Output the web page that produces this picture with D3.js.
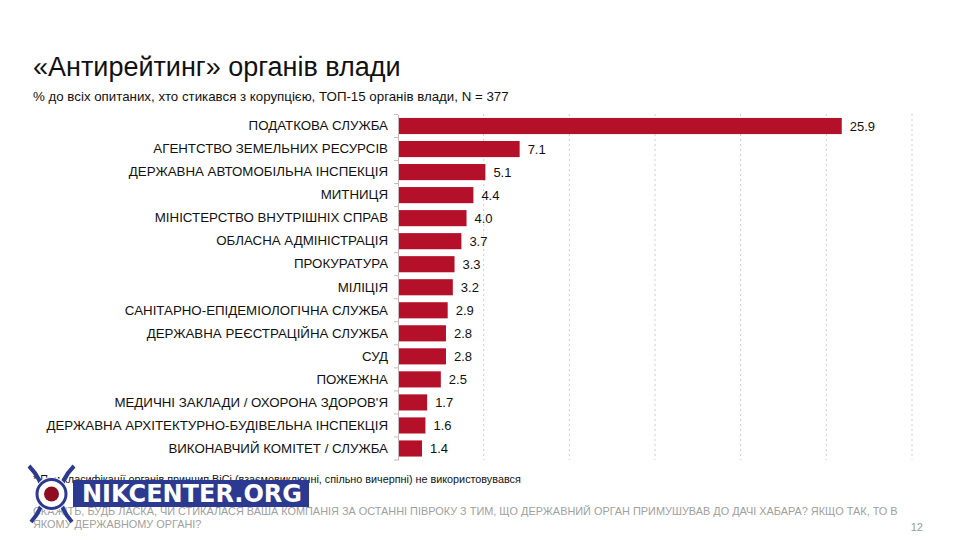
<!DOCTYPE html>
<html>
<head>
<meta charset="utf-8">
<script src="https://cdn.jsdelivr.net/npm/d3@7"></script>
<style>
  body { margin: 0; background: #fff; }
  text { font-family: "Liberation Sans", Arial, sans-serif; }
</style>
</head>
<body>
<div id="chart"></div>
<script>
var width = 960;
var height = 540;

var categories = [
  "ПОДАТКОВА СЛУЖБА",
  "АГЕНТСТВО ЗЕМЕЛЬНИХ РЕСУРСІВ",
  "ДЕРЖАВНА АВТОМОБІЛЬНА ІНСПЕКЦІЯ",
  "МИТНИЦЯ",
  "МІНІСТЕРСТВО ВНУТРІШНІХ СПРАВ",
  "ОБЛАСНА АДМІНІСТРАЦІЯ",
  "ПРОКУРАТУРА",
  "МІЛІЦІЯ",
  "САНІТАРНО-ЕПІДЕМІОЛОГІЧНА СЛУЖБА",
  "ДЕРЖАВНА РЕЄСТРАЦІЙНА СЛУЖБА",
  "СУД",
  "ПОЖЕЖНА",
  "МЕДИЧНІ ЗАКЛАДИ / ОХОРОНА ЗДОРОВ'Я",
  "ДЕРЖАВНА АРХІТЕКТУРНО-БУДІВЕЛЬНА ІНСПЕКЦІЯ",
  "ВИКОНАВЧИЙ КОМІТЕТ / СЛУЖБА"
];
var values = [25.9, 7.1, 5.1, 4.4, 4.0, 3.7, 3.3, 3.2, 2.9, 2.8, 2.8, 2.5, 1.7, 1.6, 1.4];
var gridTicks = [5, 10, 15, 20, 25, 30];

var titleText = "«Антирейтинг» органів влади";
var subtitleText = "% до всіх опитаних, хто стикався з корупцією, ТОП-15 органів влади, N = 377";
var footnoteText = "* При класифікації органів принцип ВіСі (взаємовиключні, спільно вичерпні) не використовувався";
var questionLines = [
  "СКАЖІТЬ, БУДЬ ЛАСКА, ЧИ СТИКАЛАСЯ ВАША КОМПАНІЯ ЗА ОСТАННІ ПІВРОКУ З ТИМ, ЩО ДЕРЖАВНИЙ ОРГАН ПРИМУШУВАВ ДО ДАЧІ ХАБАРА? ЯКЩО ТАК, ТО В",
  "ЯКОМУ ДЕРЖАВНОМУ ОРГАНІ?"
];
var pageNumber = "12";

var svg = d3.select("#chart").append("svg")
  .attr("width", width)
  .attr("height", height);

var x = d3.scaleLinear().domain([0, 30]).range([398, 912]);
var y = d3.scaleBand().domain(categories).range([114.5, 460]).paddingInner(0.3).paddingOuter(0.15);

// title block
svg.append("text")
  .attr("x", 33).attr("y", 76)
  .style("font-size", "27px")
  .style("fill", "#111")
  .text(titleText);

svg.append("text")
  .attr("x", 33).attr("y", 101)
  .style("font-size", "13.3px")
  .style("fill", "#111")
  .text(subtitleText);

// dashed grid lines
svg.append("g").selectAll("line")
  .data(gridTicks)
  .enter().append("line")
  .attr("x1", function(d) { return x(d); })
  .attr("x2", function(d) { return x(d); })
  .attr("y1", 114).attr("y2", 460)
  .style("stroke", "#cfcfcf")
  .style("stroke-width", 1)
  .style("stroke-dasharray", "2,3");

// bars
svg.append("g").selectAll("rect")
  .data(values)
  .enter().append("rect")
  .attr("x", x(0) + 1)
  .attr("y", function(d, i) { return y(categories[i]); })
  .attr("width", function(d) { return x(d) - x(0) - 1; })
  .attr("height", y.bandwidth())
  .style("fill", "#b5102a");

// value labels
svg.append("g").selectAll("text")
  .data(values)
  .enter().append("text")
  .attr("x", function(d) { return x(d) + 8; })
  .attr("y", function(d, i) { return y(categories[i]) + y.bandwidth() / 2; })
  .attr("dy", "0.36em")
  .style("font-size", "13px")
  .style("fill", "#111")
  .text(function(d) { return d.toFixed(1); });

// category axis
var yAxis = d3.axisLeft(y).tickSize(0).tickPadding(10);
var axisG = svg.append("g")
  .attr("transform", "translate(" + x(0) + ",0)")
  .call(yAxis);
axisG.select(".domain").style("stroke", "#c9b8bb");
axisG.selectAll(".tick text")
  .style("font-size", "13.3px")
  .style("fill", "#111")
  .style("font-family", "'Liberation Sans', Arial, sans-serif");

// small separators between categories
var step = y.step();
var bounds = d3.range(categories.length + 1).map(function(i) { return y.range()[0] + i * step; });
axisG.selectAll(".sep")
  .data(bounds)
  .enter().append("line")
  .attr("class", "sep")
  .attr("x1", -4).attr("x2", 0)
  .attr("y1", function(d) { return d; })
  .attr("y2", function(d) { return d; })
  .style("stroke", "#c9b8bb");

// footnote and question
svg.append("text")
  .attr("x", 33).attr("y", 483)
  .style("font-size", "10.8px")
  .style("fill", "#111")
  .text(footnoteText);

svg.append("g").selectAll("text")
  .data(questionLines)
  .enter().append("text")
  .attr("x", 33)
  .attr("y", function(d, i) { return 515 + i * 12.5; })
  .style("font-size", "10.9px")
  .style("fill", "#a0a0a0")
  .text(function(d) { return d; });

svg.append("text")
  .attr("x", 923).attr("y", 531)
  .attr("text-anchor", "end")
  .style("font-size", "11px")
  .style("fill", "#999")
  .text(pageNumber);

// logo
var logo = svg.append("g");
logo.append("path")
  .attr("d", "M29,466 Q56,494 31,522 M74,466 Q47,494 72,522")
  .style("fill", "none")
  .style("stroke", "#2b3990")
  .style("stroke-width", 4);
logo.append("circle").attr("cx", 51.5).attr("cy", 494).attr("r", 17).style("fill", "#fff");
logo.append("circle").attr("cx", 51.5).attr("cy", 494).attr("r", 14.5)
  .style("fill", "none").style("stroke", "#2b3990").style("stroke-width", 3);
logo.append("circle").attr("cx", 51.5).attr("cy", 494).attr("r", 7.5).style("fill", "#8e0c1e");
logo.append("rect")
  .attr("x", 73).attr("y", 480).attr("width", 236).attr("height", 27)
  .style("fill", "#2b3990");
logo.append("text")
  .attr("x", 82).attr("y", 502)
  .attr("textLength", 220)
  .attr("lengthAdjust", "spacingAndGlyphs")
  .style("font-family", "'DejaVu Sans', sans-serif")
  .style("font-weight", "bold")
  .style("font-size", "24px")
  .style("fill", "#fff")
  .text("NIKCENTER.ORG");
</script>
</body>
</html>
